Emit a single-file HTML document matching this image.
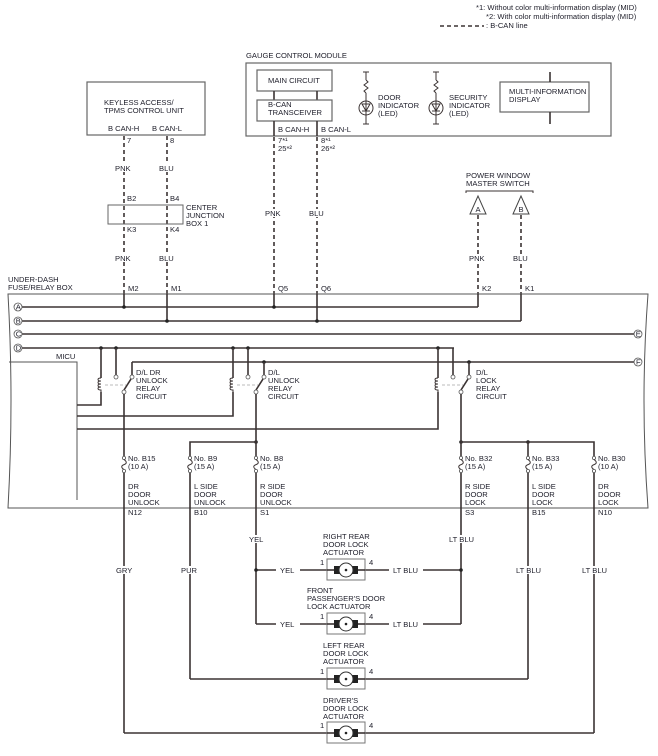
<!DOCTYPE html>
<html><head><meta charset="utf-8"><style>
html,body{margin:0;padding:0;background:#fff}
svg{display:block}
text{font-family:"Liberation Sans",Arial,sans-serif;font-size:7.6px;fill:#1e1e2a}
.w{stroke:#3b3333;stroke-width:1.6;fill:none}
.t{stroke:#3b3333;stroke-width:1;fill:none}
.d{stroke:#3b3333;stroke-width:1.6;fill:none;stroke-dasharray:4,3}
.g{stroke:#bbb;stroke-width:1;fill:none;stroke-dasharray:3,2}
.box{stroke:#666;stroke-width:1.2;fill:#fff}
.dot{fill:#222}
</style></head><body>
<svg width="658" height="756" viewBox="0 0 658 756" xmlns="http://www.w3.org/2000/svg">
<!-- legend -->
<text x="476" y="10">*1: Without color multi-information display (MID)</text>
<text x="486" y="19">*2: With color multi-information display (MID)</text>
<line x1="440" y1="26" x2="484" y2="26" class="d" stroke-width="1"/>
<text x="486" y="28">: B-CAN line</text>

<!-- keyless -->
<rect x="87" y="82" width="118" height="53" class="box"/>
<text x="104" y="105">KEYLESS ACCESS/</text>
<text x="104" y="113">TPMS CONTROL UNIT</text>
<text x="108" y="131">B CAN-H</text>
<text x="152" y="131">B CAN-L</text>
<line x1="124" y1="136" x2="124" y2="294" class="d"/>
<line x1="167" y1="136" x2="167" y2="294" class="d"/>
<text x="127" y="143">7</text><text x="170" y="143">8</text>
<rect x="114" y="164" width="20" height="8" fill="#fff"/><text x="115" y="171">PNK</text>
<rect x="158" y="164" width="20" height="8" fill="#fff"/><text x="159" y="171">BLU</text>
<text x="127" y="201">B2</text><text x="170" y="201">B4</text>
<rect x="108" y="205" width="75" height="19" fill="none" stroke="#666" stroke-width="1"/>
<text x="186" y="210">CENTER</text><text x="186" y="218">JUNCTION</text><text x="186" y="226">BOX 1</text>
<text x="127" y="232">K3</text><text x="170" y="232">K4</text>
<rect x="114" y="254" width="20" height="8" fill="#fff"/><text x="115" y="261">PNK</text>
<rect x="158" y="254" width="20" height="8" fill="#fff"/><text x="159" y="261">BLU</text>
<text x="128" y="291">M2</text><text x="171" y="291">M1</text>

<!-- gauge -->
<text x="246" y="58">GAUGE CONTROL MODULE</text>
<rect x="246" y="63" width="365" height="73" class="box"/>
<rect x="257" y="70" width="75" height="21" class="box"/>
<text x="268" y="83">MAIN CIRCUIT</text>
<line x1="274" y1="91" x2="274" y2="100" class="w"/>
<line x1="317" y1="91" x2="317" y2="100" class="w"/>
<rect x="257" y="100" width="75" height="21" class="box"/>
<text x="268" y="107">B-CAN</text><text x="268" y="115">TRANSCEIVER</text>
<line x1="274" y1="121" x2="274" y2="136" class="w"/>
<line x1="317" y1="121" x2="317" y2="136" class="w"/>
<text x="278" y="132">B CAN-H</text><text x="321" y="132">B CAN-L</text>
<line x1="274" y1="137" x2="274" y2="294" class="d"/>
<line x1="317" y1="137" x2="317" y2="294" class="d"/>
<text x="278" y="143">7*¹</text><text x="278" y="151">25*²</text>
<text x="321" y="143">8*¹</text><text x="321" y="151">26*²</text>
<rect x="264" y="209" width="20" height="8" fill="#fff"/><text x="265" y="216">PNK</text>
<rect x="308" y="209" width="20" height="8" fill="#fff"/><text x="309" y="216">BLU</text>
<text x="278" y="291">Q5</text><text x="321" y="291">Q6</text>
<!-- LEDs -->
<g class="t">
<line x1="366" y1="72" x2="366" y2="80"/><line x1="363" y1="72" x2="369" y2="72"/>
<polyline points="366,80 368,82 364,85 368,88 364,91 366,93"/>
<line x1="366" y1="93" x2="366" y2="124"/><line x1="363" y1="124" x2="369" y2="124"/>
<circle cx="366" cy="108" r="7"/><polygon points="362,104 370,104 366,111"/><line x1="362" y1="111" x2="370" y2="111"/>
<line x1="436" y1="72" x2="436" y2="80"/><line x1="433" y1="72" x2="439" y2="72"/>
<polyline points="436,80 438,82 434,85 438,88 434,91 436,93"/>
<line x1="436" y1="93" x2="436" y2="124"/><line x1="433" y1="124" x2="439" y2="124"/>
<circle cx="436" cy="108" r="7"/><polygon points="432,104 440,104 436,111"/><line x1="432" y1="111" x2="440" y2="111"/>
</g>
<text x="378" y="100">DOOR</text><text x="378" y="108">INDICATOR</text><text x="378" y="116">(LED)</text>
<text x="449" y="100">SECURITY</text><text x="449" y="108">INDICATOR</text><text x="449" y="116">(LED)</text>
<rect x="500" y="82" width="89" height="30" class="box"/>
<text x="509" y="94">MULTI-INFORMATION</text><text x="509" y="102">DISPLAY</text>
<line x1="550" y1="72" x2="550" y2="82" class="w"/><line x1="550" y1="112" x2="550" y2="124" class="w"/>

<!-- power window -->
<text x="466" y="178">POWER WINDOW</text><text x="466" y="186">MASTER SWITCH</text>
<polyline points="466,193 466,191 533,191 533,193" class="t" stroke="#999"/>
<polygon points="478,196 470,214 486,214" fill="#fff" stroke="#444" stroke-width="1"/>
<polygon points="521,196 513,214 529,214" fill="#fff" stroke="#444" stroke-width="1"/>
<text x="475.5" y="212" font-size="6.5">A</text><text x="518.5" y="212" font-size="6.5">B</text>
<line x1="478" y1="215" x2="478" y2="294" class="d"/>
<line x1="521" y1="215" x2="521" y2="294" class="d"/>
<rect x="468" y="254" width="20" height="8" fill="#fff"/><text x="469" y="261">PNK</text>
<rect x="512" y="254" width="20" height="8" fill="#fff"/><text x="513" y="261">BLU</text>
<text x="482" y="291">K2</text><text x="525" y="291">K1</text>

<!-- fuse relay box -->
<text x="8" y="282">UNDER-DASH</text><text x="8" y="290">FUSE/RELAY BOX</text>
<path d="M8,294 L648,294 Q640,400 648,508 L8,508 Q14,400 8,294 Z" fill="none" stroke="#555" stroke-width="1"/>
<!-- buses -->
<line x1="22" y1="307" x2="478" y2="307" class="w"/>
<line x1="22" y1="321" x2="521" y2="321" class="w"/>
<line x1="22" y1="334" x2="634" y2="334" class="w"/>
<line x1="22" y1="348" x2="454" y2="348" class="w"/>
<line x1="132" y1="362" x2="634" y2="362" class="w"/>
<g stroke="#555" stroke-width="0.8" fill="#fff">
<circle cx="18" cy="307" r="4"/><circle cx="18" cy="321" r="4"/><circle cx="18" cy="334" r="4"/><circle cx="18" cy="348" r="4"/>
<circle cx="638" cy="334" r="4"/><circle cx="638" cy="362" r="4"/></g>
<g font-size="6.5"><text x="15.8" y="309.5">A</text><text x="15.8" y="323.5">B</text><text x="15.8" y="336.5">C</text><text x="15.8" y="350.5">D</text><text x="635.8" y="336.5">E</text><text x="636" y="364.5">F</text></g>
<g class="w">
<line x1="124" y1="294" x2="124" y2="307"/><line x1="167" y1="294" x2="167" y2="321"/>
<line x1="274" y1="294" x2="274" y2="307"/><line x1="317" y1="294" x2="317" y2="321"/>
<line x1="478" y1="294" x2="478" y2="307"/><line x1="521" y1="294" x2="521" y2="321"/>
</g>
<g class="dot"><circle cx="124" cy="307" r="1.8"/><circle cx="167" cy="321" r="1.8"/><circle cx="274" cy="307" r="1.8"/><circle cx="317" cy="321" r="1.8"/>
<circle cx="101" cy="348" r="1.8"/><circle cx="116" cy="348" r="1.8"/><circle cx="233" cy="348" r="1.8"/><circle cx="248" cy="348" r="1.8"/><circle cx="438" cy="348" r="1.8"/>
<circle cx="264" cy="362" r="1.8"/><circle cx="469" cy="362" r="1.8"/>
<circle cx="256" cy="442" r="1.8"/><circle cx="461" cy="442" r="1.8"/><circle cx="528" cy="442" r="1.8"/></g>

<!-- MICU -->
<text x="56" y="359">MICU</text>
<polyline points="9,362 77,362 77,500" fill="none" stroke="#555" stroke-width="1"/>
<g class="w">
<polyline points="77,405 101,405 101,392"/>
<polyline points="77,416 233,416 233,392"/>
<polyline points="77,429 438,429 438,392"/>
</g>

<!-- relays -->
<g id="r1" transform="translate(101,0)">
<line x1="0" y1="348" x2="0" y2="378" class="w"/>
<path d="M0,378 c-4,0 -4,3 0,3 c-4,0 -4,3 0,3 c-4,0 -4,3 0,3 c-4,0 -4,3 0,3 l0,2" class="t"/>
<line x1="15" y1="348" x2="15" y2="375" class="w"/>
<circle cx="15" cy="377" r="2" fill="#fff" stroke="#555" stroke-width="0.8"/>
<line x1="31" y1="362" x2="31" y2="375" class="w"/>
<circle cx="31" cy="377" r="2" fill="#fff" stroke="#555" stroke-width="0.8"/>
<line x1="30" y1="379" x2="23" y2="390" class="w"/>
<circle cx="23" cy="392" r="2" fill="#fff" stroke="#555" stroke-width="0.8"/>
<line x1="4" y1="385" x2="25" y2="385" class="g"/>
</g>
<use href="#r1" transform="translate(132,0)"/>
<use href="#r1" transform="translate(337,0)"/>
<text x="136" y="375">D/L DR</text><text x="136" y="383">UNLOCK</text><text x="136" y="391">RELAY</text><text x="136" y="399">CIRCUIT</text>
<text x="268" y="375">D/L</text><text x="268" y="383">UNLOCK</text><text x="268" y="391">RELAY</text><text x="268" y="399">CIRCUIT</text>
<text x="476" y="375">D/L</text><text x="476" y="383">LOCK</text><text x="476" y="391">RELAY</text><text x="476" y="399">CIRCUIT</text>

<!-- downward from relays -->
<g class="w">
<line x1="124" y1="394" x2="124" y2="456"/>
<polyline points="256,394 256,456"/>
<polyline points="256,442 190,442 190,456"/>
<line x1="461" y1="394" x2="461" y2="456"/>
<polyline points="461,442 594,442 594,456"/>
<line x1="528" y1="442" x2="528" y2="456"/>
</g>
<!-- fuses -->
<g id="f1" transform="translate(124,0)">
<circle cx="0" cy="458" r="1.6" fill="#fff" stroke="#555" stroke-width="0.8"/>
<path d="M0,459.6 c3,2 3,4 0,5 c-3,1 -3,3 0,5" class="t"/>
<circle cx="0" cy="471" r="1.6" fill="#fff" stroke="#555" stroke-width="0.8"/>
</g>
<use href="#f1" transform="translate(66,0)"/><use href="#f1" transform="translate(132,0)"/>
<use href="#f1" transform="translate(337,0)"/><use href="#f1" transform="translate(404,0)"/><use href="#f1" transform="translate(470,0)"/>
<g class="w">
<line x1="124" y1="473" x2="124" y2="733"/>
<line x1="190" y1="473" x2="190" y2="679"/>
<line x1="256" y1="473" x2="256" y2="624"/>
<line x1="461" y1="473" x2="461" y2="624"/>
<line x1="528" y1="473" x2="528" y2="679"/>
<line x1="594" y1="473" x2="594" y2="733"/>
</g>
<text x="128" y="461">No. B15</text><text x="128" y="469">(10 A)</text>
<text x="194" y="461">No. B9</text><text x="194" y="469">(15 A)</text>
<text x="260" y="461">No. B8</text><text x="260" y="469">(15 A)</text>
<text x="465" y="461">No. B32</text><text x="465" y="469">(15 A)</text>
<text x="532" y="461">No. B33</text><text x="532" y="469">(15 A)</text>
<text x="598" y="461">No. B30</text><text x="598" y="469">(10 A)</text>
<text x="128" y="489">DR</text><text x="128" y="497">DOOR</text><text x="128" y="505">UNLOCK</text><text x="128" y="515">N12</text>
<text x="194" y="489">L SIDE</text><text x="194" y="497">DOOR</text><text x="194" y="505">UNLOCK</text><text x="194" y="515">B10</text>
<text x="260" y="489">R SIDE</text><text x="260" y="497">DOOR</text><text x="260" y="505">UNLOCK</text><text x="260" y="515">S1</text>
<text x="465" y="489">R SIDE</text><text x="465" y="497">DOOR</text><text x="465" y="505">LOCK</text><text x="465" y="515">S3</text>
<text x="532" y="489">L SIDE</text><text x="532" y="497">DOOR</text><text x="532" y="505">LOCK</text><text x="532" y="515">B15</text>
<text x="598" y="489">DR</text><text x="598" y="497">DOOR</text><text x="598" y="505">LOCK</text><text x="598" y="515">N10</text>

<!-- actuators wiring -->
<g class="w">
<line x1="256" y1="570" x2="461" y2="570"/>
<line x1="256" y1="624" x2="461" y2="624"/>
<line x1="190" y1="679" x2="528" y2="679"/>
<line x1="124" y1="733" x2="594" y2="733"/>
</g>
<g class="dot"><circle cx="256" cy="570" r="1.8"/><circle cx="461" cy="570" r="1.8"/></g>
<g fill="#fff">
<rect x="114" y="566" width="20" height="8"/><rect x="178" y="566" width="20" height="8"/>
<rect x="515" y="566" width="28" height="8"/><rect x="581" y="566" width="28" height="8"/>
<rect x="246" y="535" width="20" height="8"/><rect x="448" y="535" width="28" height="8"/>
<rect x="276" y="566" width="24" height="8"/><rect x="389" y="566" width="34" height="8"/>
<rect x="276" y="620" width="24" height="8"/><rect x="389" y="620" width="34" height="8"/>
</g>
<text x="116" y="573">GRY</text><text x="181" y="573">PUR</text>
<text x="516" y="573">LT BLU</text><text x="582" y="573">LT BLU</text>
<text x="249" y="542">YEL</text><text x="449" y="542">LT BLU</text>
<text x="280" y="573">YEL</text><text x="393" y="573">LT BLU</text>
<text x="280" y="627">YEL</text><text x="393" y="627">LT BLU</text>
<g id="a1">
<rect x="327" y="559" width="38" height="21" fill="#fff" stroke="#777" stroke-width="1"/>
<rect x="334" y="566" width="6" height="8" fill="#222"/><rect x="352" y="566" width="6" height="8" fill="#222"/>
<circle cx="346" cy="570" r="7" fill="#fff" stroke="#333" stroke-width="1"/>
<circle cx="346" cy="570" r="1.3" fill="#222"/>
<line x1="327" y1="570" x2="334" y2="570" class="w"/><line x1="358" y1="570" x2="365" y2="570" class="w"/>
<text x="320" y="565">1</text><text x="369" y="565">4</text>
</g>
<use href="#a1" transform="translate(0,54)"/>
<use href="#a1" transform="translate(0,109)"/>
<use href="#a1" transform="translate(0,163)"/>
<text x="323" y="539">RIGHT REAR</text><text x="323" y="547">DOOR LOCK</text><text x="323" y="555">ACTUATOR</text>
<text x="307" y="593">FRONT</text><text x="307" y="601">PASSENGER'S DOOR</text><text x="307" y="609">LOCK ACTUATOR</text>
<text x="323" y="648">LEFT REAR</text><text x="323" y="656">DOOR LOCK</text><text x="323" y="664">ACTUATOR</text>
<text x="323" y="703">DRIVER'S</text><text x="323" y="711">DOOR LOCK</text><text x="323" y="719">ACTUATOR</text>
</svg>
</body></html>
